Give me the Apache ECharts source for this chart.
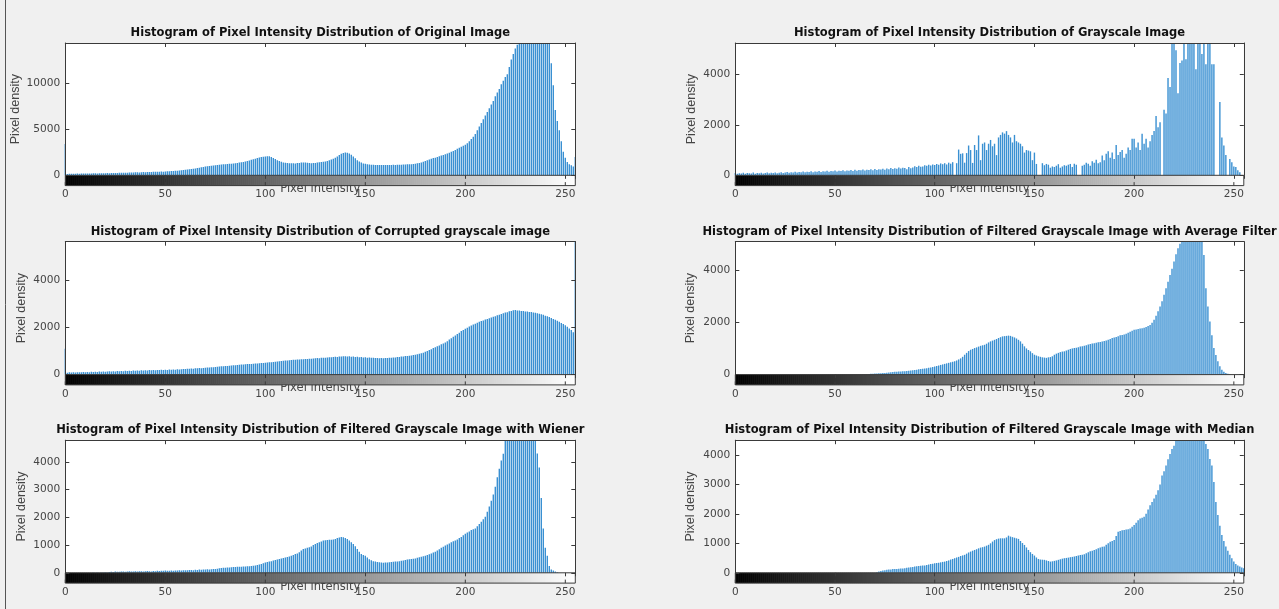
<!DOCTYPE html>
<html><head><meta charset="utf-8">
<script src="https://cdn.jsdelivr.net/npm/echarts@6/dist/echarts.min.js"></script>
<style>html,body{margin:0;padding:0;background:#f0f0f0}#c{width:1279px;height:609px}</style>
</head><body><div id="c"></div>
<script>
// ---------- data ----------
const titles = [
  'Histogram of Pixel Intensity Distribution of Original Image',
  'Histogram of Pixel Intensity Distribution of Grayscale Image',
  'Histogram of Pixel Intensity Distribution of Corrupted grayscale image',
  'Histogram of Pixel Intensity Distribution of Filtered Grayscale Image with Average Filter',
  'Histogram of Pixel Intensity Distribution of Filtered Grayscale Image with Wiener',
  'Histogram of Pixel Intensity Distribution of Filtered Grayscale Image with Median'
];
const xTicks = [0, 50, 100, 150, 200, 250];
const yMaxes = [14400, 5240, 5640, 5080, 4780, 4500];
const yTickSteps = [5000, 2000, 2000, 2000, 1000, 1000];

const histOriginal = [3400,
150,170,160,180,170,190,175,185,200,190,
195,205,200,210,220,205,215,230,220,235,
240,230,250,245,260,255,270,265,280,290,
285,300,310,295,320,330,315,340,350,345,
360,370,355,380,390,375,400,410,395,420,
430,445,460,470,490,505,520,545,570,600,
630,660,690,720,750,790,830,870,910,950,
990,1020,1050,1080,1100,1130,1160,1180,1200,1210,
1230,1250,1270,1290,1300,1340,1380,1420,1460,1500,
1560,1620,1680,1740,1800,1870,1930,1980,2010,2050,
2080,2060,1980,1880,1780,1650,1550,1470,1400,1370,
1340,1320,1300,1310,1290,1330,1350,1380,1400,1390,
1360,1340,1320,1350,1330,1380,1410,1450,1480,1500,
1560,1640,1720,1800,1900,2050,2200,2350,2420,2490,
2460,2380,2230,2050,1850,1650,1500,1380,1280,1250,
1210,1180,1160,1140,1130,1120,1110,1130,1120,1110,
1120,1130,1110,1140,1130,1150,1140,1160,1170,1180,
1190,1200,1210,1230,1260,1300,1350,1400,1480,1560,
1650,1720,1800,1870,1920,2000,2080,2150,2220,2300,
2380,2460,2550,2650,2760,2880,3000,3120,3220,3330,
3500,3700,3950,4200,4500,4900,5300,5700,6100,6500,
6900,7300,7700,8100,8600,9000,9400,9900,10300,10700,
11000,11800,12600,13200,13800,14200,14600,14800,15000,15200,
15300,15400,15500,15400,15300,15200,15000,14900,14800,14700,
14600,14500,12200,9800,7100,5900,4900,3700,2550,1900,
1450,1200,1090,950,2000];

const histGrayscale = [
90,60,80,70,100,60,90,80,70,110,
60,90,80,100,70,90,110,80,100,90,
110,80,100,120,90,110,130,100,120,110,
140,110,130,120,150,120,140,130,160,120,
150,140,170,130,160,150,180,140,170,160,
190,150,180,170,200,160,190,180,210,170,
220,180,210,200,230,190,220,210,240,200,
250,210,240,230,260,220,270,240,290,250,
280,260,310,270,300,290,240,330,280,310,
360,330,380,340,350,400,380,420,390,430,
410,450,420,470,440,480,430,500,460,520,
0,480,1020,850,870,500,880,1180,1000,490,
1200,1000,1580,600,1250,1300,1000,1250,1400,1150,
1250,800,1500,1600,1700,1650,1750,1600,1500,1300,
1600,1350,1300,1250,1150,900,1000,980,950,600,
900,450,0,0,480,400,450,420,300,350,
330,380,440,300,350,400,380,420,450,330,
460,420,0,0,380,420,500,460,380,560,
500,620,480,520,780,600,850,950,700,900,
650,1200,800,920,1000,700,850,1100,1000,1450,
1450,1100,1300,1000,1650,1250,1450,1100,1350,1600,
1750,2350,1900,2100,0,2600,2450,3850,3500,5600,
5600,4950,3250,4450,4550,5600,4600,5600,5600,5600,
5600,4200,5600,5600,4800,5600,4400,5600,5600,4400,
4400,0,0,2900,1500,1180,800,0,650,520,
350,330,200,120,0,0];

const histCorrupted = [1100,
80,95,85,100,90,105,95,100,110,100,
115,105,120,110,125,115,130,120,135,125,
135,140,130,145,135,150,140,155,145,160,
150,165,155,170,160,175,165,180,170,185,
175,190,180,195,185,200,190,205,195,210,
200,215,205,220,210,225,215,230,235,240,
245,250,255,250,265,270,275,270,285,295,
300,305,315,310,325,335,340,350,355,365,
370,380,385,395,400,410,415,425,430,440,
445,450,455,465,470,475,480,490,495,505,
510,520,525,535,545,555,565,575,585,595,
600,610,615,625,630,640,640,650,655,660,
665,675,670,685,690,700,695,710,715,720,
725,735,740,745,755,750,765,770,775,780,
770,775,760,765,750,755,740,745,730,735,
720,725,710,715,700,705,695,700,690,700,
705,715,710,725,730,745,750,765,770,785,
790,805,815,835,845,865,880,905,930,965,
1000,1045,1080,1125,1160,1205,1240,1285,1320,1365,
1420,1485,1540,1605,1660,1725,1780,1845,1890,1945,
1990,2045,2080,2125,2160,2205,2240,2275,2300,2335,
2360,2395,2420,2455,2480,2515,2540,2575,2600,2635,
2650,2690,2700,2730,2740,2720,2715,2700,2695,2680,
2675,2660,2655,2640,2625,2600,2585,2560,2535,2500,
2475,2440,2405,2360,2325,2280,2245,2190,2145,2090,
2035,1960,1895,1800,6000];

const histAverage = [
0,0,0,0,0,0,0,0,0,0,
0,0,0,0,0,0,0,0,0,0,
0,0,0,0,0,0,0,0,0,0,
0,0,0,0,0,0,0,0,0,0,
0,0,0,0,0,0,0,0,0,0,
0,0,0,0,0,0,0,0,0,0,
0,0,0,0,0,0,0,25,30,35,
40,45,50,55,60,65,70,80,90,100,
105,110,115,120,125,130,140,150,160,170,
180,190,200,210,220,230,245,260,275,290,
310,330,350,370,390,410,430,450,470,490,
510,540,580,620,680,760,830,900,950,980,
1015,1040,1070,1100,1120,1140,1180,1230,1270,1300,
1330,1360,1400,1430,1460,1470,1480,1490,1480,1450,
1420,1380,1330,1270,1180,1080,1000,940,890,820,
760,730,700,680,660,650,640,660,670,700,
760,800,830,860,880,890,920,950,980,1000,
1015,1030,1050,1070,1080,1100,1120,1150,1170,1190,
1200,1220,1240,1250,1270,1280,1300,1330,1360,1400,
1420,1440,1470,1500,1510,1530,1560,1600,1640,1680,
1710,1720,1740,1760,1770,1790,1820,1860,1900,1980,
2100,2250,2420,2600,2800,3050,3300,3550,3810,4050,
4320,4600,4830,5000,5200,5200,5200,5200,5200,5200,
5200,5200,5200,5200,5200,4570,3300,2600,2030,1500,
1015,750,510,320,190,110,60,30,10,0,
0,0,0,0,0,0];

const histWiener = [
0,0,0,0,0,0,0,0,0,0,
0,0,5,0,10,0,10,5,15,10,
20,15,30,40,30,45,35,40,50,45,
40,50,55,45,50,60,50,55,60,50,
55,65,60,50,65,60,70,65,75,70,
85,70,75,80,70,85,80,90,85,95,
90,95,100,105,95,110,105,115,110,120,
115,125,120,130,135,140,150,160,170,180,
185,190,195,200,205,210,215,215,220,225,
230,235,240,245,255,265,280,300,320,345,
370,385,405,420,440,465,480,500,515,530,
550,570,590,615,640,680,700,740,800,860,
880,900,920,950,1000,1040,1070,1100,1130,1165,
1170,1180,1190,1195,1200,1220,1250,1270,1290,1280,
1250,1220,1165,1100,1040,960,860,760,675,640,
615,550,490,450,420,405,390,380,370,365,
370,375,380,390,400,405,410,420,430,445,
465,480,490,500,510,515,540,560,580,600,
615,640,670,700,730,760,800,850,900,940,
980,1020,1060,1100,1140,1165,1200,1250,1290,1350,
1410,1450,1490,1540,1570,1600,1680,1760,1840,1930,
2025,2200,2390,2600,2820,3100,3440,3750,4050,4290,
4900,4900,4900,4900,4900,4900,4900,4900,4900,4900,
4900,4900,4900,4900,4900,4900,4300,3800,2700,1600,
900,615,245,120,80,50,20,0,0,0,
0,0,0,0,0,0];

const histMedian = [
0,0,0,0,0,0,0,0,0,0,
0,0,0,0,0,0,0,0,0,0,
0,0,0,0,0,0,0,0,0,0,
0,0,0,0,0,0,0,0,0,0,
0,0,0,0,0,0,0,0,0,0,
0,0,0,0,0,0,0,0,0,0,
0,0,0,0,0,0,0,0,0,0,
0,20,40,60,75,90,100,110,115,125,
125,130,140,145,150,157,170,180,190,200,
215,220,230,240,245,250,265,280,295,310,
325,335,345,355,370,380,400,420,450,470,
495,520,540,570,590,610,650,690,720,750,
775,800,830,855,870,890,920,950,1000,1060,
1110,1140,1160,1170,1170,1170,1200,1260,1230,1210,
1190,1170,1150,1080,1010,945,860,775,700,640,
585,520,470,450,445,440,420,400,380,390,
405,420,440,460,480,495,505,515,530,540,
550,570,590,600,615,630,660,700,730,750,
775,800,830,860,880,890,950,1000,1050,1080,
1110,1250,1390,1420,1440,1450,1470,1480,1500,1560,
1620,1700,1780,1840,1870,1900,2000,2150,2290,2400,
2520,2650,2800,3000,3300,3450,3640,3850,4030,4200,
4310,4600,4600,4600,4600,4600,4600,4600,4600,4600,
4600,4600,4600,4600,4600,4600,4370,4200,3860,3640,
3080,2400,1960,1600,1280,1080,890,750,610,490,
380,300,250,210,180,157];

const histograms = [histOriginal, histGrayscale, histCorrupted, histAverage, histWiener, histMedian];

// ---------- layout ----------
const colX = [65.3, 735.3], colW = [510, 508.5];
const rowTop = [43, 241.7, 440.2], rowBot = [175.3, 374.6, 572.8];
const titleY = [34.5, 232.8, 431.3];
const cbH = 10.3;
const yNameGap = [43, 37.5, 37, 38, 37.5, 38];
const tickColor = '#454545';
const lineColor = '#3a3a3a';
const barColor = '#3a90d2';

const grid = [], xAxis = [], yAxis = [], series = [], title = [];

histograms.forEach((hist, p) => {
  const col = p % 2, row = Math.floor(p / 2);
  const g0 = grid.length;
  grid.push({left: colX[col], top: rowTop[row], width: colW[col], height: rowBot[row] - rowTop[row],
    show: true, backgroundColor: '#ffffff', borderWidth: 0});
  grid.push({left: colX[col], top: rowBot[row], width: colW[col], height: cbH, show: false});
  const g1 = g0 + 1;

  const step = yTickSteps[p];
  const xi0 = xAxis.length;
  xAxis.push({gridIndex: g0, type: 'value', min: 0, max: 255, interval: 50, position: 'top', z: 5,
    axisLine: {show: true, onZero: false, lineStyle: {color: lineColor, width: 1}},
    axisTick: {show: true, inside: true, length: 4, lineStyle: {color: lineColor}},
    axisLabel: {show: false}, splitLine: {show: false}});
  xAxis.push({gridIndex: g1, type: 'value', min: 0, max: 255, interval: 50, position: 'bottom', z: 1,
    axisLine: {show: false, onZero: false}, axisTick: {show: false},
    axisLabel: {show: true, margin: 3.5, color: tickColor, fontFamily: 'DejaVu Sans', fontSize: 10.5,
      formatter: v => (v % 50 === 0 ? String(v) : '')},
    splitLine: {show: false},
    name: 'Pixel intensity', nameLocation: 'middle', nameGap: -2.5, nameMoveOverlap: false,
    nameTextStyle: {color: tickColor, fontFamily: 'DejaVu Sans', fontSize: 11.5}});
  const xi1 = xi0 + 1;
  xAxis.push({gridIndex: g1, type: 'value', min: 0, max: 255, interval: 50, position: 'top', z: 5,
    axisLine: {show: false, onZero: false},
    axisTick: {show: true, inside: true, length: 3.5, lineStyle: {color: lineColor}},
    axisLabel: {show: false}, splitLine: {show: false}});

  const yi0 = yAxis.length;
  yAxis.push({gridIndex: g0, type: 'value', min: 0, max: yMaxes[p], interval: step, position: 'left', z: 5,
    axisLine: {show: true, onZero: false, lineStyle: {color: lineColor, width: 1}},
    axisTick: {show: true, inside: true, length: 4, lineStyle: {color: lineColor}},
    axisLabel: {show: true, margin: 5, color: tickColor, fontFamily: 'DejaVu Sans', fontSize: 10.6,
      formatter: v => (v % step === 0 ? String(v) : '')},
    splitLine: {show: false},
    name: 'Pixel density', nameLocation: 'middle', nameGap: yNameGap[p], nameMoveOverlap: false,
    nameTextStyle: {color: tickColor, fontFamily: 'Liberation Sans', fontSize: 12.5}});
  yAxis.push({gridIndex: g0, type: 'value', min: 0, max: yMaxes[p], interval: step, position: 'right', z: 5,
    axisLine: {show: true, onZero: false, lineStyle: {color: lineColor, width: 1}},
    axisTick: {show: true, inside: true, length: 4, lineStyle: {color: lineColor}},
    axisLabel: {show: false}, splitLine: {show: false}});
  const yi2 = yAxis.length;
  yAxis.push({gridIndex: g1, type: 'value', min: 0, max: 1, show: false});

  series.push({type: 'bar', xAxisIndex: xi0, yAxisIndex: yi0, barWidth: 1.4, clip: true, silent: true,
    itemStyle: {color: barColor}, data: hist.map((v, i) => [i, v])});

  series.push({type: 'custom', xAxisIndex: xi1, yAxisIndex: yi2, silent: true,
    data: hist.map((v, i) => [i]),
    renderItem: (params, api) => {
      const i = api.value(0);
      const a = api.coord([Math.max(0, i - 0.5), 1]);
      const b = api.coord([Math.min(255, i + 0.5), 0]);
      const children = [{type: 'rect', shape: {x: a[0], y: a[1], width: b[0] - a[0] + 0.6, height: b[1] - a[1]},
        style: {fill: `rgb(${i},${i},${i})`}}];
      if (i === 0) {
        const e = api.coord([255, 0]);
        children.push({type: 'rect', z2: 100, shape: {x: a[0], y: a[1], width: e[0] - a[0], height: e[1] - a[1]},
          style: {fill: 'none', stroke: lineColor, lineWidth: 1}});
        xTicks.forEach(t => {
          const q = api.coord([t, 0]);
          children.push({type: 'line', z2: 100, shape: {x1: q[0], y1: q[1], x2: q[0], y2: q[1] - 3.5},
            style: {stroke: lineColor, lineWidth: 1}});
        });
      }
      return {type: 'group', children};
    }});

  title.push({text: titles[p], left: colX[col] + colW[col] / 2, top: titleY[row] - 7, textAlign: 'center', padding: 0,
    textStyle: {fontFamily: 'DejaVu Sans', fontWeight: 'bold', fontSize: 11.5, color: '#111'}});
});

const chart = echarts.init(document.getElementById('c'), null, {renderer: 'canvas'});
chart.setOption({
  backgroundColor: '#f0f0f0',
  animation: false,
  title, grid, xAxis, yAxis, series,
  graphic: [{type: 'line', shape: {x1: 5.5, y1: 0, x2: 5.5, y2: 609}, style: {stroke: '#555', lineWidth: 1}}]
});
</script></body></html>
